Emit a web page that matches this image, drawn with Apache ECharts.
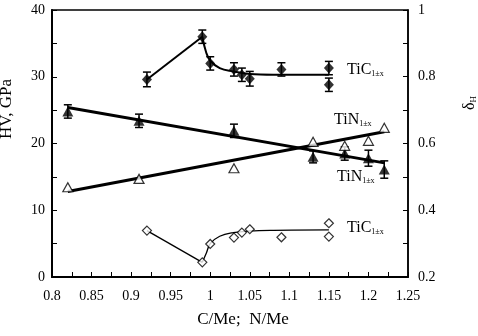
<!DOCTYPE html>
<html>
<head>
<meta charset="utf-8">
<script src="https://cdn.jsdelivr.net/npm/echarts@6/dist/echarts.min.js"></script>
<style>
  html, body { margin: 0; padding: 0; background: #fff; }
  #chart { width: 478px; height: 336px; }
</style>
</head>
<body>
<div id="chart"></div>
<script>
// TiC1±x: microhardness + delta_H
var ticX = [0.92, 0.99, 1.00, 1.03, 1.04, 1.05, 1.09, 1.15, 1.15];
var ticHV = [29.6, 36.0, 32.0, 31.1, 30.3, 29.7, 31.1, 31.3, 28.8];
var ticErr = [1.1, 1.0, 1.0, 1.0, 1.0, 1.1, 1.0, 1.0, 1.0];
var ticDelta = [0.339, 0.244, 0.299, 0.318, 0.333, 0.343, 0.319, 0.361, 0.321];

// TiN1±x
var tinX = [0.82, 0.91, 1.03, 1.13, 1.17, 1.20, 1.22];
var tinHV = [24.8, 23.4, 21.9, 18.0, 18.5, 17.8, 16.1];
var tinErr = [1.0, 1.0, 1.0, 0.9, 1.0, 1.2, 1.3];
var tinDelta = [0.469, 0.494, 0.526, 0.605, 0.593, 0.608, 0.647];

// fitted curves
var ticHVRise = [[0.92, 29.6], [0.99, 36.0]];
var ticHVFall = [[0.99, 36.0], [0.995, 33.6], [1.0, 32.4], [1.012, 31.3], [1.029, 30.8], [1.05, 30.4], [1.08, 30.3], [1.15, 30.3]];
var ticDeltaFall = [[0.92, 0.339], [0.99, 0.244]];
var ticDeltaRise = [[0.99, 0.244], [0.995, 0.271], [1.0, 0.300], [1.012, 0.322], [1.029, 0.333], [1.05, 0.338], [1.08, 0.340], [1.15, 0.341]];
var tinHVFit = [[0.82, 25.4], [1.22, 17.1]];
var tinDeltaFit = [[0.82, 0.456], [1.22, 0.635]];

var serif = 'Liberation Serif, Times New Roman, serif';

function pairs(xs, ys) {
    return xs.map(function (x, i) { return [x, ys[i]]; });
}
function errData(xs, ys, es) {
    return xs.map(function (x, i) { return [x, ys[i] - es[i], ys[i] + es[i]]; });
}
function renderErr(params, api) {
    var lo = api.coord([api.value(0), api.value(1)]);
    var hi = api.coord([api.value(0), api.value(2)]);
    var w = 4;
    var st = { stroke: '#000', lineWidth: 1.5 };
    return {
        type: 'group',
        children: [
            { type: 'line', shape: { x1: lo[0], y1: lo[1], x2: hi[0], y2: hi[1] }, style: st },
            { type: 'line', shape: { x1: hi[0] - w, y1: hi[1], x2: hi[0] + w, y2: hi[1] }, style: st },
            { type: 'line', shape: { x1: lo[0] - w, y1: lo[1], x2: lo[0] + w, y2: lo[1] }, style: st }
        ]
    };
}
function fit(data, yIdx, width, smooth) {
    return {
        type: 'line', data: data, yAxisIndex: yIdx, showSymbol: false, symbol: 'none',
        smooth: smooth || false, lineStyle: { color: '#000', width: width }, z: 2, silent: true
    };
}
function label(x, y, main, sub) {
    return {
        type: 'text', x: x, y: y,
        style: {
            text: '{m|' + main + '}{s|' + sub + '}',
            verticalAlign: 'middle', fill: '#000',
            rich: {
                m: { fontSize: 16, fontFamily: serif, fill: '#000' },
                s: { fontSize: 8, fontFamily: serif, fill: '#000', padding: [8, 0, 0, 0] }
            }
        }
    };
}

var myChart = echarts.init(document.getElementById('chart'));
var option = {
    animation: false,
    grid: { left: 52, right: 70, top: 10, bottom: 59, show: true, borderColor: '#000', borderWidth: 1.5, backgroundColor: 'transparent' },
    xAxis: {
        type: 'value', min: 0.8, max: 1.25, interval: 0.05,
        axisLine: { lineStyle: { color: '#000', width: 2 } },
        axisTick: { inside: true, length: 5, lineStyle: { color: '#000', width: 1 } },
        minorTick: { show: true, splitNumber: 2, length: 5, lineStyle: { color: '#000', width: 1 } },
        splitLine: { show: false },
        axisLabel: {
            color: '#000', fontFamily: serif, fontSize: 14, margin: 12,
            formatter: function (v) { return String(+v.toFixed(2)); }
        }
    },
    yAxis: [{
        type: 'value', min: 0, max: 40, interval: 10,
        axisLine: { show: true, lineStyle: { color: '#000', width: 2 } },
        axisTick: { show: true, inside: true, length: 5, lineStyle: { color: '#000', width: 1 } },
        minorTick: { show: true, splitNumber: 2, length: 5, lineStyle: { color: '#000', width: 1 } },
        splitLine: { show: false },
        axisLabel: { color: '#000', fontFamily: serif, fontSize: 14, margin: 7 }
    }, {
        type: 'value', position: 'right', min: 0.2, max: 1, interval: 0.2,
        axisLine: { show: true, lineStyle: { color: '#000', width: 1.5 } },
        axisTick: { show: true, inside: true, length: 5, lineStyle: { color: '#000', width: 1 } },
        minorTick: { show: true, splitNumber: 2, length: 5, lineStyle: { color: '#000', width: 1 } },
        splitLine: { show: false },
        axisLabel: {
            color: '#000', fontFamily: serif, fontSize: 14, margin: 10,
            formatter: function (v) { return String(+v.toFixed(1)); }
        }
    }],
    series: [
        fit(ticHVRise, 0, 2),
        fit(ticHVFall, 0, 2, 0.4),
        fit(ticDeltaFall, 1, 1.3),
        fit(ticDeltaRise, 1, 1.3, 0.4),
        fit(tinHVFit, 0, 3),
        fit(tinDeltaFit, 1, 3),
        { type: 'custom', yAxisIndex: 0, data: errData(ticX, ticHV, ticErr), renderItem: renderErr, z: 3, silent: true },
        { type: 'custom', yAxisIndex: 0, data: errData(tinX, tinHV, tinErr), renderItem: renderErr, z: 3, silent: true },
        {
            type: 'scatter', yAxisIndex: 0, data: pairs(ticX, ticHV), symbol: 'diamond', symbolSize: [10, 11],
            itemStyle: { color: '#000' }, z: 4
        },
        {
            type: 'scatter', yAxisIndex: 0, data: pairs(tinX, tinHV), symbol: 'triangle', symbolSize: [11, 10],
            itemStyle: { color: '#000' }, z: 4
        },
        {
            type: 'scatter', yAxisIndex: 1, data: pairs(ticX, ticDelta), symbol: 'diamond', symbolSize: [9, 9],
            itemStyle: { color: '#fff', borderColor: '#000', borderWidth: 1.2 }, z: 4
        },
        {
            type: 'scatter', yAxisIndex: 1, data: pairs(tinX, tinDelta), symbol: 'triangle', symbolSize: [10, 9],
            itemStyle: { color: '#fff', borderColor: '#000', borderWidth: 1.2 }, z: 4
        }
    ],
    graphic: [
        label(347, 70, 'TiC', '1±x'),
        label(334, 120, 'TiN', '1±x'),
        label(337, 177, 'TiN', '1±x'),
        label(347, 228, 'TiC', '1±x'),
        {
            type: 'text', x: 243, y: 320,
            style: { text: 'C/Me;  N/Me', align: 'center', verticalAlign: 'middle', fontSize: 17, fontFamily: serif, fill: '#000' }
        },
        {
            type: 'text', x: 7, y: 109, rotation: Math.PI / 2,
            style: { text: 'HV, GPa', align: 'center', verticalAlign: 'middle', fontSize: 17, fontFamily: serif, fill: '#000' }
        },
        {
            type: 'text', x: 470, y: 103, rotation: Math.PI / 2,
            style: {
                text: '{m|δ}{s|H}', align: 'center', verticalAlign: 'middle', fill: '#000',
                rich: {
                    m: { fontSize: 16, fontFamily: serif, fill: '#000' },
                    s: { fontSize: 9, fontFamily: serif, fill: '#000', padding: [8, 0, 0, 0] }
                }
            }
        }
    ]
};
myChart.setOption(option);
</script>
</body>
</html>
